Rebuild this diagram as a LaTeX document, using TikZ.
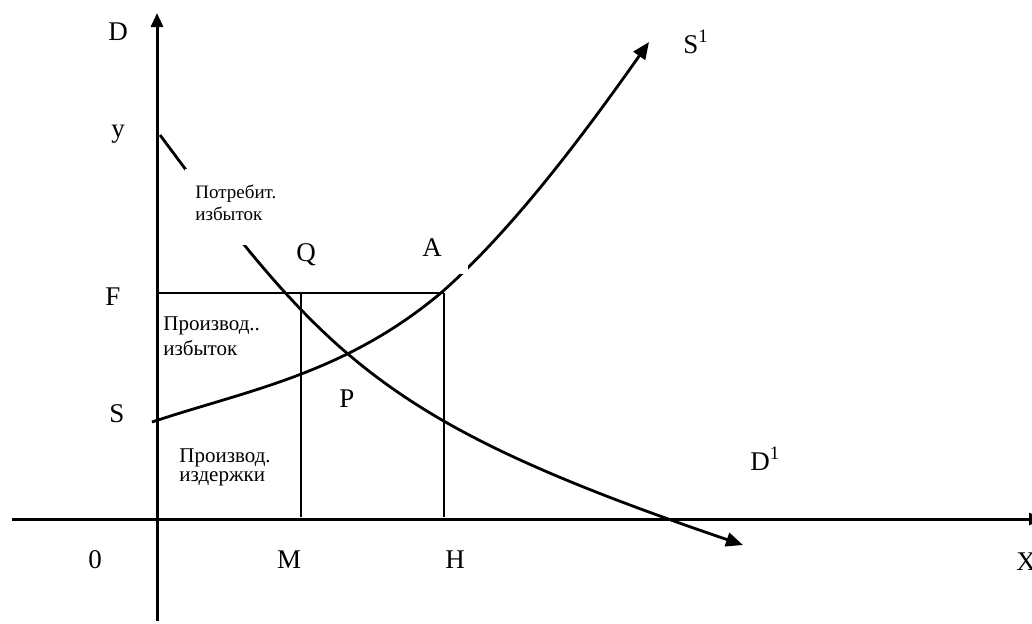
\documentclass[tikz,border=0pt]{standalone}
\usepackage{fontspec}
\setmainfont{Liberation Serif}
\usetikzlibrary{arrows.meta}
\begin{document}
\begin{tikzpicture}[x=0.5pt,y=-0.5pt,
  axis/.style={line width=1.5pt},
  curve/.style={line width=1.4pt},
  guide/.style={line width=1pt},
  axtip/.style={-{Triangle[length=7pt,width=6pt]}},
  cvtip/.style={-{Triangle[length=8.5pt,width=7pt]}},
  lbl/.style={font=\fontsize{13.5}{16}\selectfont, inner sep=0, anchor=base},
  note/.style={font=\fontsize{10.5}{12}\selectfont, inner sep=0, anchor=base west},
  smallnote/.style={font=\fontsize{9.5}{11}\selectfont, inner sep=0, anchor=base west},
  mask/.style={fill=white}]
\useasboundingbox (0,0) rectangle (1032,623);
\fill[white] (0,0) rectangle (1032,623);

% axes
\coordinate (ybot) at (157,621);
\coordinate (ytop) at (157,13);
\coordinate (xleft) at (12,519);
\coordinate (xright) at (1043,519);
\draw[axis,axtip] (ybot) -- (ytop);
\draw[axis,axtip] (xleft) -- (xright);

% guide lines
\coordinate (Fpt) at (157,293);
\coordinate (Apt) at (444,293);
\coordinate (Mtop) at (301,293);
\coordinate (Mbot) at (301,517);
\coordinate (Hbot) at (444,517);
\draw[guide] (Fpt) -- (Apt);
\draw[guide] (Mtop) -- (Mbot);
\draw[guide] (Apt) -- (Hbot);

% supply curve S -> A -> S1
\coordinate (s0) at (152,422);
\coordinate (sA) at (442,292);
\coordinate (s1) at (649,42);
\draw[curve,cvtip] (s0) .. controls (248,390) and (345,374) .. (sA)
  .. controls (511,231) and (580,140) .. (s1);
% demand curve y -> D1
\coordinate (d0) at (160,135);
\coordinate (d1) at (743,545);
\draw[curve,cvtip] (d0) .. controls (327,360) and (385,423) .. (d1);

% white text boxes covering the curves
\fill[mask] (185,169) rectangle (300,245);
\fill[mask] (405,225) rectangle (468,274);

% labels
\node[lbl] (lD) at (118,40) {D};
\node[lbl] (ly) at (118,137) {y};
\node[lbl] (lF) at (113,305) {F};
\node[lbl] (lS) at (117,422) {S};
\node[lbl] (l0) at (95,568) {0};
\node[lbl] (lM) at (289,568) {M};
\node[lbl] (lH) at (455,568) {H};
\node[lbl] (lX) at (1026,570) {X};
\node[lbl] (lQ) at (306,261) {Q};
\node[lbl] (lA) at (432,256) {A};
\node[lbl] (lP) at (347,407) {P};
\node[lbl,anchor=base west] (lS1) at (683,53) {S\textsuperscript{1}};
\node[lbl,anchor=base west] (lD1) at (750,470) {D\textsuperscript{1}};

\node[smallnote] (cs1) at (195,198) {Потребит.};
\node[smallnote] (cs2) at (195,220) {избыток};
\node[note] (ps1) at (163,330) {Производ..};
\node[note] (ps2) at (163,355) {избыток};
\node[note] (pc1) at (179,462) {Производ.};
\node[note] (pc2) at (179,481) {издержки};
\end{tikzpicture}
\end{document}
